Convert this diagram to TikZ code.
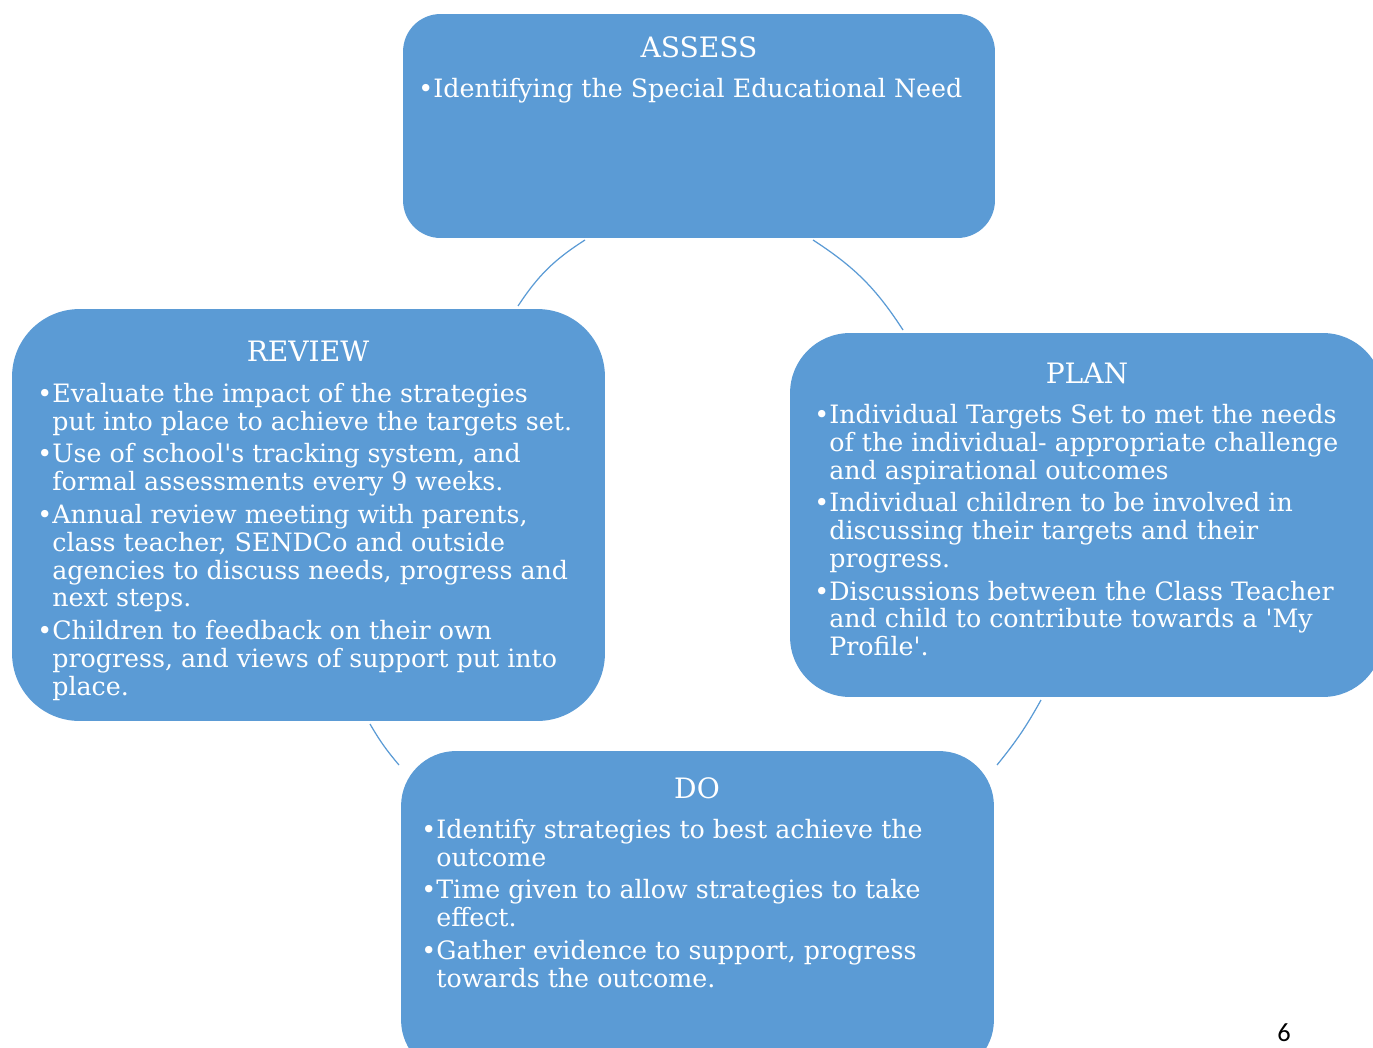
\documentclass[tikz,border=0pt]{standalone}
\usepackage{fontspec}
\setmainfont{DejaVu Serif}
\newfontfamily\pagenumfont{Carlito}
\usetikzlibrary{positioning}
\definecolor{cycleblue}{HTML}{5B9BD5}
\newcommand{\bl}{\strut\llap{\textbullet}}
\newcommand{\sq}{\textquotesingle}

\begin{document}
\begin{tikzpicture}[x=0.02cm, y=-0.02cm,
    stagebox/.style={fill=cycleblue, inner sep=0pt},
    stagetitle/.style={text=white, inner sep=0pt, font=\fontsize{16}{18}\selectfont},
    stagetext/.style={text=white, align=left, inner sep=0pt, anchor=north west,
        font=\fontsize{14.4}{15.9}\selectfont},
    link/.style={draw=cycleblue, line width=0.7pt}]
    \useasboundingbox (0,0) rectangle (1373,1048);
    \clip (0,0) rectangle (1373,1048);

    % boxes of the cycle
    \node[stagebox, rounded corners=0.75cm, minimum width=11.84cm, minimum height=4.48cm] (assess) at (699,126) {};
    \node[stagebox, rounded corners=1.35cm, minimum width=11.86cm, minimum height=8.24cm] (review) at (308.5,515) {};
    \node[stagebox, rounded corners=1.2cm, minimum width=11.86cm, minimum height=7.28cm] (plan) at (1086.5,515) {};
    \node[stagebox, rounded corners=1.1cm, minimum width=11.86cm, minimum height=6.48cm] (do) at (697.5,913) {};

    % titles
    \node[stagetitle] (assesstitle) at (699,47) {ASSESS};
    \node[stagetitle] (reviewtitle) at (308,351) {REVIEW};
    \node[stagetitle] (plantitle) at (1087,373) {PLAN};
    \node[stagetitle] (dotitle) at (697,788) {DO};

    % bullet points (top of first line = baseline - 19.6)
    \node[stagetext] (assesstext) at (433,77.4) {\bl Identifying the Special Educational Need};
    \node[stagetext] (reviewtext) at (52,382.4) {%
        \bl Evaluate the impact of the strategies\\
        put into place to achieve the targets set.\\[2.6pt]
        \bl Use of school\sq s tracking system, and\\
        formal assessments every 9 weeks.\\[2.6pt]
        \bl Annual review meeting with parents,\\
        class teacher, SENDCo and outside\\
        agencies to discuss needs, progress and\\
        next steps.\\[2.6pt]
        \bl Children to feedback on their own\\
        progress, and views of support put into\\
        place.};
    \node[stagetext] (plantext) at (829,403.4) {%
        \bl Individual Targets Set to met the needs\\
        of the individual- appropriate challenge\\
        and aspirational outcomes\\[2.6pt]
        \bl Individual children to be involved in\\
        discussing their targets and their\\
        progress.\\[2.6pt]
        \bl Discussions between the Class Teacher\\
        and child to contribute towards a \sq My\\
        Profile\sq.};
    \node[stagetext] (dotext) at (436,818.4) {%
        \bl Identify strategies to best achieve the\\
        outcome\\[2.6pt]
        \bl Time given to allow strategies to take\\
        effect.\\[2.6pt]
        \bl Gather evidence to support, progress\\
        towards the outcome.};

    % arcs between the boxes
    \coordinate (ar1) at (585,240);
    \coordinate (ar2) at (518,306);
    \coordinate (pa1) at (813,240);
    \coordinate (pa2) at (903,330);
    \coordinate (dp1) at (1041,700);
    \coordinate (dp2) at (997,765);
    \coordinate (rd1) at (370,724);
    \coordinate (rd2) at (399,765);
    \draw[link] (ar1) to[bend right=12] (ar2);
    \draw[link] (pa1) to[bend left=12] (pa2);
    \draw[link] (dp1) to[bend left=5] (dp2);
    \draw[link] (rd1) to[bend right=5] (rd2);

    % page number
    \node[font=\pagenumfont\fontsize{15}{18}\selectfont, inner sep=0pt] (pagenum) at (1284,1033) {6};
\end{tikzpicture}
\end{document}
